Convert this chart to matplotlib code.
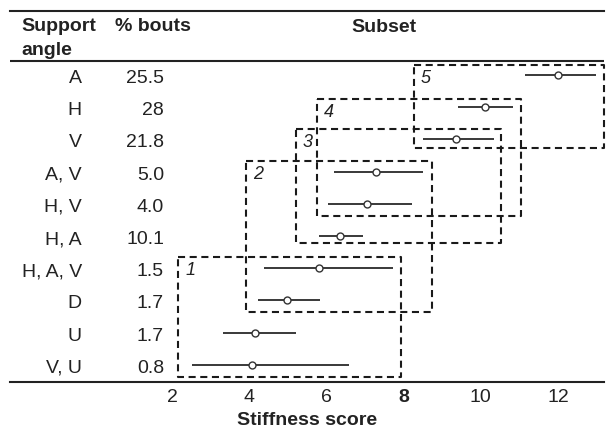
import numpy as np
import matplotlib
matplotlib.use('Agg')
import matplotlib.pyplot as plt

plt.rcParams['font.family'] = ['Liberation Sans', 'DejaVu Sans']

# table rows
support_angle = ['A', 'H', 'V', 'A, V', 'H, V', 'H, A', 'H, A, V', 'D', 'U', 'V, U']
pct_bouts = ['25.5', '28', '21.8', '5.0', '4.0', '10.1', '1.5', '1.7', '1.7', '0.8']

# stiffness score: estimate and interval
stiff_mid = [12.0, 10.1, 9.36, 7.28, 7.05, 6.35, 5.8, 4.98, 4.15, 4.07]
stiff_lo = [11.15, 9.41, 8.5, 6.2, 6.04, 5.8, 4.38, 4.23, 3.32, 2.52]
stiff_hi = [12.98, 10.83, 10.34, 8.5, 8.22, 6.95, 7.73, 5.83, 5.21, 6.59]

# homogeneous subsets (dashed boxes)
subset_ids = ['1', '2', '3', '4', '5']
subset_x0 = [2.16, 3.92, 5.21, 5.76, 8.27]
subset_x1 = [7.93, 8.74, 10.52, 11.04, 13.19]
subset_top = [5.65, 2.67, 1.68, 0.75, -0.31]
subset_bot = [9.38, 7.36, 5.22, 4.38, 2.27]

xticks = [2, 4, 6, 8, 10, 12]

fig = plt.figure(figsize=(6.12, 4.31), dpi=100)
ax = fig.add_axes([10/612, 48/431, 594/612, 371/431])
ax.set_xlim(-2.197, 13.19)
ax.set_ylim(9.534, -1.988)

rows = np.arange(len(support_angle))

# intervals + open circles
ax.hlines(rows, stiff_lo, stiff_hi, color='#2a2a2a', lw=1.3, zorder=3)
ax.plot(stiff_mid, rows, 'o', ms=5, mfc='white', mec='#333333', mew=1.0, zorder=4)

# dashed boxes
for sid, x0, x1, t, b in zip(subset_ids, subset_x0, subset_x1, subset_top, subset_bot):
    ax.plot([x0, x1, x1, x0, x0], [t, t, b, b, t], color='#1a1a1a', lw=1.5,
            ls=(0, (3.4, 2.2)), clip_on=False, zorder=2)
    ax.annotate(sid, (x0, t), xytext=(5, -3), textcoords='offset points',
                ha='left', va='top', fontsize=13, style='italic', color='#222222')

# table columns
for r, lab, pb in zip(rows, support_angle, pct_bouts):
    ax.text(-0.332, r + 0.22, lab, ha='right', va='baseline', fontsize=14, color='#222222')
    ax.text(1.793, r + 0.22, pb, ha='right', va='baseline', fontsize=14, color='#222222')

# headers
ax.text(-1.912, -1.398, 'Support', ha='left', va='baseline', fontsize=14, fontweight='bold', color='#222222')
ax.text(-1.912, -0.652, 'angle', ha='left', va='baseline', fontsize=14, fontweight='bold', color='#222222')
ax.text(0.523, -1.398, '% bouts', ha='left', va='baseline', fontsize=14, fontweight='bold', color='#222222')
ax.text(7.49, -1.366, 'Subset', ha='center', va='baseline', fontsize=14, fontweight='bold', color='#222222')
ax.axhline(-0.435, color='#222222', lw=1.5)

# axes styling
for side in ['left', 'right']:
    ax.spines[side].set_visible(False)
for side in ['top', 'bottom']:
    ax.spines[side].set_linewidth(1.5)
    ax.spines[side].set_color('#222222')
ax.set_yticks([])
ax.set_xticks(xticks)
ax.set_xticklabels([str(t) for t in xticks])
ax.tick_params(axis='x', length=0, pad=4, labelsize=14, labelcolor='#222222')
for tl in ax.get_xticklabels():
    if tl.get_text() == '8':
        tl.set_fontweight('bold')
ax.set_xlabel('Stiffness score', fontsize=14, fontweight='bold', color='#222222', labelpad=5)

fig.savefig('out.png', dpi=100)
